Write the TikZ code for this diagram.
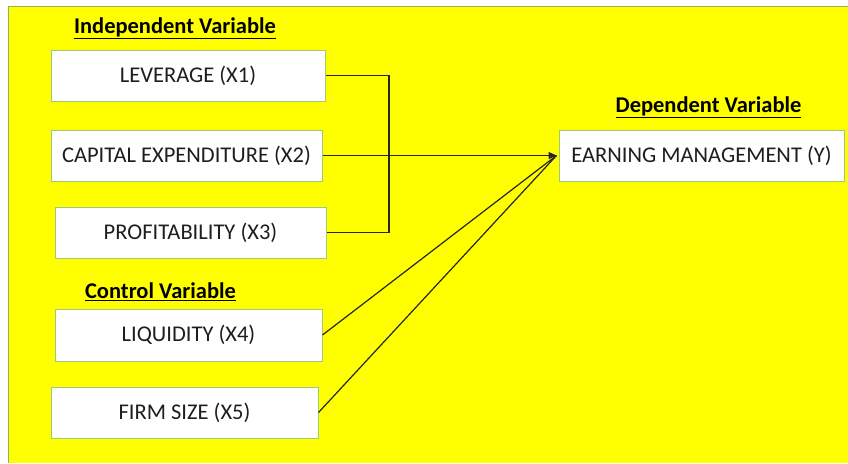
\documentclass[tikz,border=0pt]{standalone}
\usepackage{fontspec}
\setmainfont{Carlito}
\usetikzlibrary{arrows.meta}
\definecolor{bg}{RGB}{255,255,0}
\definecolor{bgedge}{RGB}{150,175,90}
\definecolor{boxedge}{RGB}{160,200,120}
\definecolor{txt}{RGB}{30,30,30}
\tikzset{
  varbox/.style={draw=boxedge, line width=1pt, fill=white, inner sep=0pt, font=\fontsize{22.5}{26}\selectfont, text=txt},
  heading/.style={font=\bfseries\fontsize{22.5}{26}\selectfont, inner sep=0pt, text=black},
  link/.style={draw=black!85, line width=1.2pt},
}
\begin{document}
\begin{tikzpicture}[x=1pt,y=-1pt]
\useasboundingbox (0,0) rectangle (848,463);
\fill[white] (0,0) rectangle (848,463);
\fill[bg] (8,6) rectangle (848,463);
\draw[bgedge, line width=1pt] (8,463) -- (8,6) -- (848,6);
% boxes
\node[varbox, minimum width=274pt, minimum height=51pt] (x1) at (188,75.5) {LEVERAGE (X1)};
\node[varbox, minimum width=271pt, minimum height=51pt] (x2) at (186.5,155.5) {CAPITAL EXPENDITURE (X2)};
\node[varbox, minimum width=271pt, minimum height=51pt] (x3) at (190.5,232.5) {PROFITABILITY (X3)};
\node[varbox, minimum width=267pt, minimum height=52pt] (x4) at (188.5,335) {LIQUIDITY (X4)};
\node[varbox, minimum width=267pt, minimum height=51pt] (x5) at (184.5,412.5) {FIRM SIZE (X5)};
\node[varbox, minimum width=285pt, minimum height=51pt] (y) at (701.5,155.5) {EARNING MANAGEMENT (Y)};
% headings
\node[heading] (hind) at (175,28) {\underline{Independent Variable}};
\node[heading] (hctl) at (160.5,292) {\underline{Control Variable}};
\node[heading] (hdep) at (708.5,107) {\underline{Dependent Variable}};
% connectors
\coordinate (j1) at (389,75.5);
\coordinate (j3) at (389,232.5);
\draw[link] (x1.east) -- (j1) -- (j3) -- (x3.east);
\coordinate (tip) at ([xshift=-2pt]y.west);
\draw[link, -{Triangle[length=8pt,width=7pt]}] (x2.east) -- (tip);
\draw[link] (x4.east) -- (tip);
\draw[link] (x5.east) -- (tip);
\end{tikzpicture}
\end{document}
